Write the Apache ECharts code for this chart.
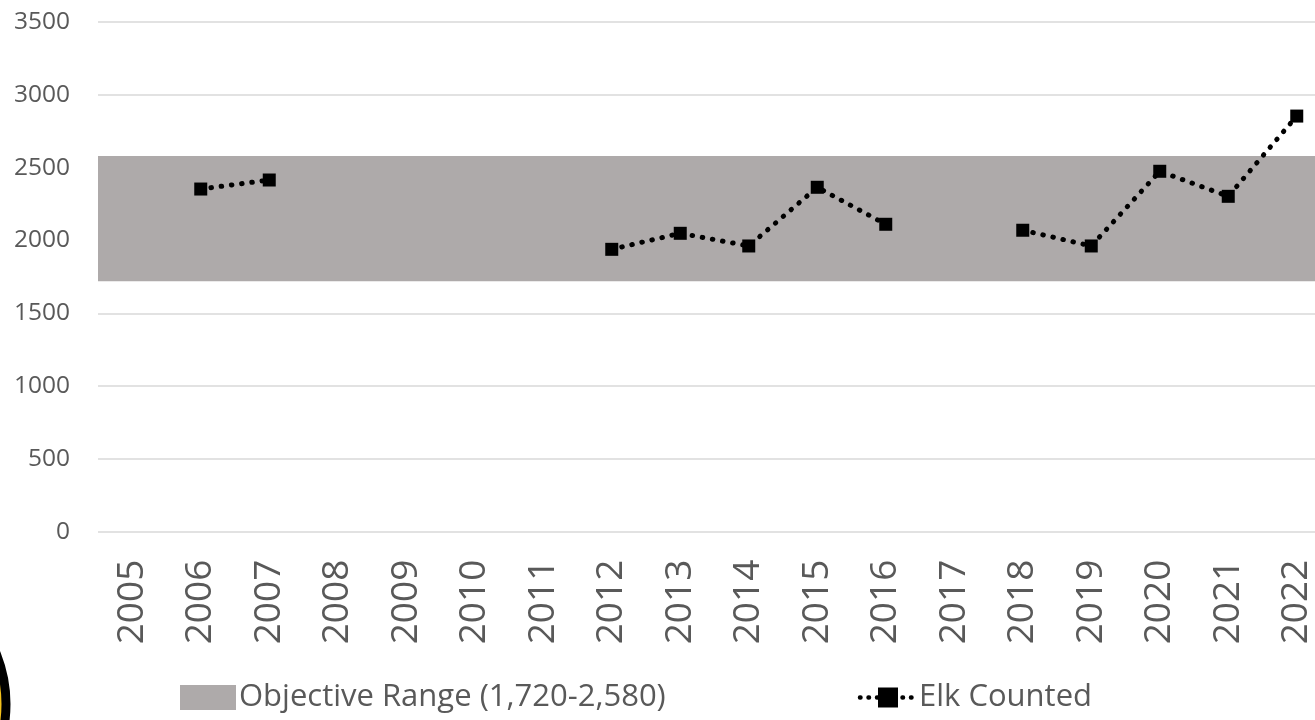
<!DOCTYPE html>
<html>
<head>
<meta charset="utf-8">
<script src="https://cdn.jsdelivr.net/npm/echarts@6/dist/echarts.min.js"></script>
<style>
html,body{margin:0;padding:0;background:#fff;}
#chart{width:1315px;height:720px;}
</style>
</head>
<body>
<div id="chart"></div>
<script>
const years = ['2005','2006','2007','2008','2009','2010','2011','2012','2013','2014','2015','2016','2017','2018','2019','2020','2021','2022'];
const elkCounted = [null, 2353, 2415, null, null, null, null, 1939, 2049, 1962, 2365, 2111, null, 2070, 1962, 2475, 2303, 2854];
const objectiveRange = [1720, 2580];
const yTicks = [0, 500, 1000, 1500, 2000, 2500, 3000, 3500];
const rangeName = 'Objective Range (1,720-2,580)';
const elkName = 'Elk Counted';

const chart = echarts.init(document.getElementById('chart'));
const textColor = '#595959';
const font = '"Open Sans", sans-serif';
chart.setOption({
  animation: false,
  backgroundColor: '#ffffff',
  textStyle: { fontFamily: font },
  grid: { left: 98, width: 1233, top: 22, height: 509.7, containLabel: false, outerBoundsMode: 'none' },
  legend: {
    top: 677,
    left: 175,
    itemGap: 192,
    itemWidth: 56,
    itemHeight: 25,
    textStyle: { color: textColor, fontSize: 31, fontFamily: font, padding: [0, 0, 0, -2] },
    data: [
      { name: rangeName, icon: 'rect' },
      { name: elkName, itemStyle: { color: '#000' }, lineStyle: { color: '#000', width: 4.5, type: [0.5, 8], cap: 'round' } }
    ]
  },
  xAxis: {
    type: 'category',
    data: years,
    boundaryGap: true,
    axisLine: { show: false },
    axisTick: { show: false },
    axisLabel: { rotate: 90, color: textColor, fontSize: 37, margin: 28, fontFamily: font },
    splitLine: { show: false }
  },
  yAxis: {
    type: 'value',
    min: yTicks[0],
    max: yTicks[yTicks.length - 1],
    interval: yTicks[1] - yTicks[0],
    axisLine: { show: false },
    axisTick: { show: false },
    axisLabel: { color: textColor, fontSize: 24.5, margin: 28, fontFamily: font, formatter: function (v) { return String(v); } },
    splitLine: { lineStyle: { color: '#D9D9D9', width: 1.5 } }
  },
  series: [
    {
      name: rangeName,
      type: 'line',
      data: [],
      itemStyle: { color: '#AEAAAA' },
      lineStyle: { opacity: 0 },
      symbol: 'none',
      markArea: {
        silent: true,
        itemStyle: { color: '#AEAAAA', opacity: 1 },
        data: [[{ yAxis: objectiveRange[0] }, { yAxis: objectiveRange[1] }]]
      },
      z: 1
    },
    {
      name: elkName,
      type: 'line',
      data: elkCounted,
      connectNulls: false,
      symbol: 'rect',
      symbolSize: 13,
      itemStyle: { color: '#000000' },
      lineStyle: { color: '#000000', width: 5, type: [0.5, 9.8], cap: 'round' },
      z: 5
    }
  ],
  graphic: [
    {
      type: 'circle',
      shape: { cx: -128, cy: 704, r: 134 },
      style: { fill: '#F6C21B', stroke: '#000000', lineWidth: 9 },
      z: 0
    }
  ]
});
</script>
</body>
</html>
